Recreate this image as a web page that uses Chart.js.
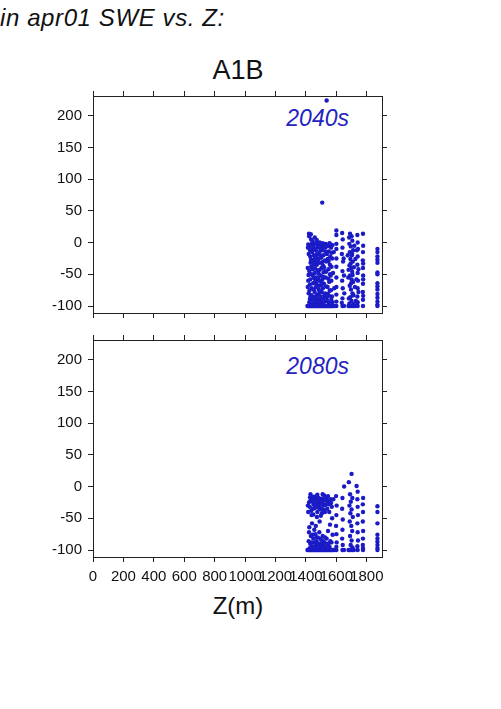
<!DOCTYPE html>
<html>
<head>
<meta charset="utf-8">
<script src="https://cdn.jsdelivr.net/npm/chart.js@4.4.0/dist/chart.umd.min.js"></script>
<style>
  html, body { margin:0; padding:0; background:#fff; }
  body { width:501px; height:709px; position:relative; overflow:hidden; font-family:"Liberation Sans", Arial, sans-serif; color:#111; }
  .t { position:absolute; white-space:nowrap; }
  canvas { position:absolute; left:0; }
</style>
</head>
<body>
<div class="t" style="left:0px;top:6px;font-size:24px;line-height:24px;font-style:italic;letter-spacing:0.6px;">in apr01 SWE vs. Z:</div>
<div class="t" style="left:138px;width:200px;text-align:center;top:57px;font-size:27px;line-height:27px;">A1B</div>
<div class="t" style="left:150px;width:199px;text-align:right;top:107px;font-size:23px;line-height:23px;font-style:italic;color:#2323c2;">2040s</div>
<div class="t" style="left:150px;width:199px;text-align:right;top:355px;font-size:23px;line-height:23px;font-style:italic;color:#2323c2;">2080s</div>
<div class="t" style="left:138px;width:200px;text-align:center;top:594px;font-size:24px;line-height:24px;">Z(m)</div>
<canvas id="c1" width="420" height="235" style="top:88px;width:420px;height:235px;"></canvas>
<canvas id="c2" width="420" height="255" style="top:332px;width:420px;height:255px;"></canvas>
<script>
// ---- data (Z in m, change in apr01 SWE in %) ----
const xTicks = [0, 200, 400, 600, 800, 1000, 1200, 1400, 1600, 1800];
const yTicks = [-100, -50, 0, 50, 100, 150, 200];

const points2040 = [
  [1536,224],[1507,63],
  [1410,-100],[1415,-100],[1420,-100],[1425,-100],[1430,-100],[1435,-100],[1440,-100],[1445,-100],[1450,-100],
  [1455,-100],[1460,-100],[1465,-100],[1470,-100],[1475,-100],[1480,-100],[1485,-100],[1490,-100],[1495,-100],
  [1500,-100],[1505,-100],[1510,-100],[1515,-100],[1520,-100],[1525,-100],[1530,-100],[1535,-100],[1540,-100],
  [1545,-100],[1550,-100],[1555,-100],[1560,-100],[1565,-100],[1570,-100],[1575,-100],[1580,-100],[1590,-100],
  [1600,-100],[1640,-100],[1650,-100],[1680,-100],[1685,-100],[1695,-100],[1705,-100],[1715,-100],[1725,-100],
  [1740,-100],[1775,-100],[1870,-100],
  [1420,14],[1432,13],[1460,-2],[1470,-1],[1480,-3],[1490,0],[1500,-4],[1510,-1],[1520,-3],[1530,-2],
  [1545,-5],[1555,-1],[1565,-8],[1575,-4],[1415,-3],[1425,-6],[1438,-2],[1448,-4],[1455,-9],[1465,-12],
  [1478,-7],[1488,-15],[1495,-10],[1505,-12],[1515,-20],[1525,-8],[1538,-18],[1550,-14],[1560,-22],[1572,-25],
  [1418,-18],[1428,-22],[1442,-28],[1452,-20],[1462,-30],[1472,-35],[1482,-26],[1492,-32],[1502,-40],[1512,-36],
  [1522,-45],[1535,-30],[1548,-42],[1558,-50],[1568,-38],[1412,-40],[1422,-45],[1435,-38],[1445,-52],[1458,-48],
  [1468,-55],[1478,-44],[1486,-60],[1497,-52],[1508,-58],[1518,-65],[1530,-55],[1542,-70],[1553,-62],[1564,-75],
  [1415,-60],[1426,-66],[1438,-72],[1447,-64],[1457,-78],[1466,-70],[1476,-82],[1484,-74],[1494,-85],[1504,-78],
  [1514,-88],[1527,-80],[1540,-92],[1552,-84],[1566,-90],[1418,-80],[1430,-85],[1440,-90],[1450,-86],[1460,-92],
  [1470,-88],[1480,-95],[1490,-90],[1500,-94],[1510,-96],[1422,-94],[1436,-97],[1452,-96],[1466,-93],[1478,-98],
  [1445,-10],[1473,-18],[1436,-50],[1487,-68],[1459,-62],[1500,-24],[1524,-28],[1430,-32],[1455,-35],[1468,-84],
  [1413,-8],[1427,-12],[1433,-27],[1441,-15],[1449,-33],[1453,-56],[1461,-41],[1467,-24],[1474,-58],[1483,-49],
  [1489,-79],[1493,-20],[1498,-67],[1503,-89],[1507,-31],[1511,-72],[1516,-47],[1521,-83],[1528,-14],[1533,-69],
  [1537,-87],[1543,-26],[1547,-57],[1551,-95],[1557,-35],[1562,-3],[1567,-60],[1571,-85],[1578,-48],[1583,-15],
  [1586,-72],[1417,-51],[1423,-76],[1429,-58],[1437,-83],[1443,-42],[1451,-74],[1457,-25],[1463,-87],[1469,-65],
  [1476,-30],[1481,-56],[1486,-91],[1491,-43],[1496,-78],[1502,-62],[1509,-8],[1513,-54],[1519,-39],[1526,-93],
  [1532,-46],[1539,-6],[1544,-81],[1549,-29],[1556,-76],[1563,-52],[1569,-16],[1574,-94],[1412,-70],[1426,-89],
  [1421,10],[1434,5],[1444,2],[1458,8],[1471,4],
  [1600,19],[1600,12],[1600,-2],[1600,-10],[1600,-25],[1600,-38],[1600,-55],[1600,-70],[1600,-82],[1600,-93],
  [1638,15],[1642,5],[1640,-8],[1636,-18],[1644,-30],[1640,-45],[1638,-60],[1642,-72],[1640,-88],[1636,-95],
  [1648,-25],[1650,-52],[1652,-80],
  [1690,14],[1700,10],[1705,3],[1685,-2],[1695,-6],[1710,-12],[1688,-15],[1702,-20],[1692,-26],[1708,-30],
  [1686,-36],[1698,-40],[1704,-46],[1690,-52],[1700,-58],[1710,-62],[1688,-68],[1696,-74],[1706,-80],[1692,-86],
  [1700,-92],[1686,-96],
  [1675,-20],[1678,-55],[1682,-88],[1684,8],[1694,-33],[1697,-64],[1703,-17],[1707,-51],[1712,-83],[1715,-39],
  [1718,-5],[1722,-70],[1725,-26],[1728,-92],[1732,-58],[1735,-12],[1745,-42],[1745,-78],[1680,-43],[1714,-97],
  [1738,12],[1740,0],[1742,-10],[1740,-22],[1738,-35],[1740,-48],[1742,-60],[1740,-72],[1738,-85],[1740,-94],
  [1775,14],[1776,-5],[1775,-15],[1774,-28],[1775,-40],[1776,-52],[1775,-65],[1774,-78],[1775,-90],
  [1776,-33],[1776,-58],[1776,-84],
  [1870,-10],[1870,-15],[1870,-22],[1870,-27],[1870,-32],[1870,-47],[1870,-50],[1870,-64],[1870,-69],
  [1870,-74],[1870,-81],[1870,-87],[1870,-93],[1870,-98]
];

const points2080 = [
  [1410,-100],[1415,-100],[1420,-100],[1425,-100],[1430,-100],[1435,-100],[1440,-100],[1445,-100],[1450,-100],
  [1455,-100],[1460,-100],[1465,-100],[1470,-100],[1475,-100],[1480,-100],[1485,-100],[1490,-100],[1495,-100],
  [1500,-100],[1505,-100],[1510,-100],[1515,-100],[1520,-100],[1525,-100],[1530,-100],[1535,-100],[1540,-100],
  [1545,-100],[1550,-100],[1555,-100],[1560,-100],[1565,-100],[1570,-100],[1575,-100],[1580,-100],[1590,-100],
  [1600,-100],[1640,-100],[1650,-100],[1680,-100],[1685,-100],[1695,-100],[1705,-100],[1715,-100],[1740,-100],
  [1775,-100],[1870,-100],
  [1420,-25],[1430,-22],[1440,-18],[1450,-28],[1460,-20],[1470,-15],[1480,-24],[1490,-30],[1500,-19],[1510,-26],
  [1520,-14],[1530,-22],[1540,-35],[1550,-28],[1425,-32],[1435,-38],[1445,-24],[1455,-34],[1465,-30],[1475,-40],
  [1485,-22],[1495,-36],[1505,-42],[1515,-30],[1560,-20],[1570,-32],[1415,-40],[1448,-44],[1472,-48],[1498,-46],
  [1525,-40],[1440,-58],[1465,-62],[1490,-55],[1455,-68],[1420,-72],[1432,-78],[1448,-82],[1462,-75],[1478,-80],
  [1488,-72],[1500,-84],[1510,-78],[1522,-88],[1536,-82],[1548,-92],[1560,-86],[1418,-86],[1428,-90],[1440,-94],
  [1452,-88],[1466,-92],[1476,-96],[1486,-90],[1496,-94],[1506,-97],[1516,-93],[1530,-96],[1424,-97],[1458,-98],
  [1470,-86],[1545,-70],[1558,-60],[1575,-76],[1572,-50],
  [1413,-30],[1427,-17],[1437,-45],[1446,-35],[1452,-16],[1468,-26],[1477,-33],[1483,-18],[1493,-25],[1503,-35],
  [1512,-20],[1518,-37],[1527,-29],[1535,-18],[1543,-24],[1553,-40],[1565,-26],[1580,-20],[1422,-64],[1434,-88],
  [1444,-76],[1456,-95],[1468,-80],[1481,-93],[1494,-82],[1503,-90],[1513,-86],[1526,-80],[1540,-90],[1555,-95],
  [1568,-88],[1430,-12],[1475,-13],[1510,-12],[1545,-15],
  [1598,-15],[1602,-30],[1600,-45],[1598,-62],[1600,-75],[1602,-88],[1600,-95],
  [1651,0],[1640,-18],[1638,-35],[1642,-52],[1640,-68],[1638,-82],[1642,-92],
  [1700,20],[1682,7],[1690,-12],[1705,-18],[1695,-24],[1686,-30],[1700,-36],[1692,-42],[1708,-48],[1688,-55],
  [1698,-62],[1704,-70],[1690,-78],[1700,-85],[1694,-92],[1706,-96],
  [1733,1],[1740,-8],[1738,-20],[1740,-32],[1742,-45],[1738,-58],[1740,-72],[1742,-85],[1738,-94],
  [1776,-18],[1774,-28],[1775,-40],[1774,-55],[1776,-70],[1775,-82],[1774,-92],[1775,-97],
  [1870,-31],[1870,-40],[1870,-58],[1870,-76],[1870,-82],[1870,-87],[1870,-92],[1870,-97]
];

// ---- drawing ----
Chart.defaults.font.family = '"Liberation Sans", Arial, sans-serif';
Chart.defaults.color = '#111';
const AX = '#222';
const X_MIN = 0, X_MAX = 1900, Y_MIN = -111, Y_MAX = 231;
const PLOT_LEFT = 93, PLOT_RIGHT = 382;

function setTicks(list) { return s => { s.ticks = list.map(v => ({ value: v })); }; }

function axis(pos, list, showLabels, size, min, max) {
  const horiz = pos === 'top' || pos === 'bottom';
  return {
    type: 'linear', position: pos, min: min, max: max,
    afterBuildTicks: setTicks(list),
    afterFit: s => {
      if (horiz) s.height = size; else s.width = size;
      s.paddingTop = 0; s.paddingBottom = 0; s.paddingLeft = 0; s.paddingRight = 0;
    },
    ticks: { display: showLabels, autoSkip: false, maxRotation: 0, minRotation: 0,
             font: { size: 15 }, color: '#111', padding: horiz ? 6 : 6,
             callback: v => String(v) },
    grid: { drawOnChartArea: false, drawTicks: true, tickLength: 5, color: AX, lineWidth: 1 },
    border: { display: true, color: AX, width: 1 }
  };
}

function panel(id, pts, showX, bottomH) {
  const canvas = document.getElementById(id);
  new Chart(canvas, {
    type: 'scatter',
    data: { datasets: [{
      data: pts.map(p => ({ x: p[0], y: p[1] })),
      pointRadius: 2.2, pointBorderWidth: 0, pointBackgroundColor: '#1b1bc6', pointHoverRadius: 2.2
    }] },
    options: {
      responsive: false, animation: false, events: [],
      layout: { padding: 0 },
      plugins: { legend: { display: false }, tooltip: { enabled: false } },
      scales: {
        x: axis('bottom', xTicks, showX, bottomH, X_MIN, X_MAX),
        x2: axis('top', xTicks, false, 8, X_MIN, X_MAX),
        y: axis('left', yTicks, true, PLOT_LEFT, Y_MIN, Y_MAX),
        y2: axis('right', yTicks, false, canvas.width - PLOT_RIGHT, Y_MIN, Y_MAX)
      }
    }
  });
}

panel('c1', points2040, false, 10);
panel('c2', points2080, true, 30);
</script>
</body>
</html>
